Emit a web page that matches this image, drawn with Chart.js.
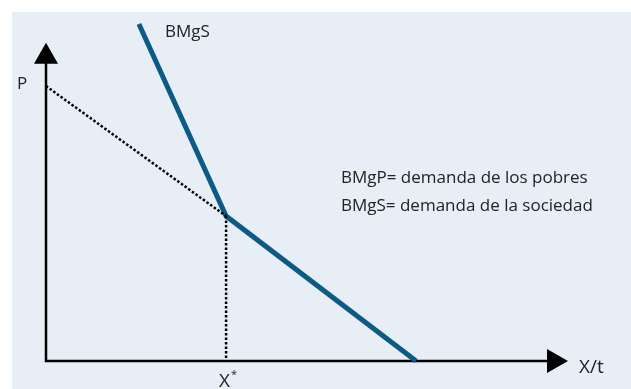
<!DOCTYPE html>
<html lang="es">
<head>
  <meta charset="UTF-8">
  <title>BMgP y BMgS</title>
  <script src="https://cdn.jsdelivr.net/npm/chart.js"></script>
  <style>
    html, body { margin: 0; padding: 0; background: #ffffff; }
    #wrap { width: 631px; height: 389px; }
  </style>
</head>
<body>
  <div id="wrap"><canvas id="chart-1" width="631" height="389"></canvas></div>

  <script>
    // datos en unidades del gráfico (x: 0-100, y: 0-100)
    const bmgsX = [17.8, 34.5, 70.9];
    const bmgsY = [100, 43.0, 0];
    const bmgpX = [0, 34.5];
    const bmgpY = [81.6, 43.0];
    const xStarX = [34.5, 34.5];
    const xStarY = [43.0, 0];

    const axisTipY = 94.4;   // punta de la flecha del eje P
    const axisTipX = 100;    // punta de la flecha del eje X/t

    const legendLines = ['BMgP= demanda de los pobres', 'BMgS= demanda de la sociedad'];

    const toPoints = (xs, ys) => xs.map((x, i) => ({ x: x, y: ys[i] }));

    const FONT = '"Open Sans", sans-serif';
    const BLUE = '#0d5a86';

    const decor = {
      id: 'decor',
      beforeDraw(chart) {
        const c = chart.ctx;
        c.save();
        c.fillStyle = '#e7eef5';
        c.fillRect(12, 12, chart.width - 12, chart.height - 12);
        c.restore();
      },
      beforeDatasetsDraw(chart) {
        const c = chart.ctx;
        const xs = chart.scales.x, ys = chart.scales.y;
        const x0 = xs.getPixelForValue(0), y0 = ys.getPixelForValue(0);
        const yTip = ys.getPixelForValue(axisTipY);
        const xTip = xs.getPixelForValue(axisTipX);
        c.save();
        c.strokeStyle = '#000';
        c.lineWidth = 2.5;
        c.beginPath();
        c.moveTo(x0, yTip + 10);
        c.lineTo(x0, y0);
        c.lineTo(xTip - 10, y0);
        c.stroke();
        c.fillStyle = '#000';
        // flecha vertical
        c.beginPath();
        c.moveTo(x0, yTip);
        c.lineTo(x0 - 12, yTip + 21);
        c.lineTo(x0 + 12, yTip + 21);
        c.closePath();
        c.fill();
        // flecha horizontal
        c.beginPath();
        c.moveTo(xTip, y0);
        c.lineTo(xTip - 21, y0 - 12);
        c.lineTo(xTip - 21, y0 + 12);
        c.closePath();
        c.fill();
        c.restore();
      },
      afterDatasetsDraw(chart) {
        const c = chart.ctx;
        const xs = chart.scales.x;
        const xStarPx = xs.getPixelForValue(xStarX[0]);
        c.save();
        c.fillStyle = '#222';
        c.textBaseline = 'alphabetic';
        c.textAlign = 'left';
        c.font = '17px ' + FONT;
        c.fillText('BMgS', 165, 37);
        c.fillText(legendLines[0], 341, 183);
        c.fillText(legendLines[1], 341, 211);
        c.fillText('P', 17, 89);
        c.font = '19px ' + FONT;
        c.fillText('X', xStarPx - 7, 387);
        c.fillText('X/t', 579, 373);
        c.font = '11px ' + FONT;
        c.fillText('*', xStarPx + 5, 378);
        c.restore();
      }
    };

    const ctx = document.getElementById('chart-1');
    const chart = new Chart(ctx, {
      type: 'scatter',
      data: {
        datasets: [
          {
            label: 'BMgP',
            data: toPoints(bmgpX, bmgpY),
            showLine: true,
            borderColor: '#000',
            borderWidth: 2.5,
            borderDash: [2.5, 2],
            pointRadius: 0,
            clip: false
          },
          {
            label: 'X*',
            data: toPoints(xStarX, xStarY),
            showLine: true,
            borderColor: '#000',
            borderWidth: 2.5,
            borderDash: [2.5, 2],
            pointRadius: 0,
            clip: false
          },
          {
            label: 'BMgS',
            data: toPoints(bmgsX, bmgsY),
            showLine: true,
            borderColor: BLUE,
            borderWidth: 5,
            borderJoinStyle: 'miter',
            pointRadius: 0,
            clip: false
          }
        ]
      },
      options: {
        responsive: false,
        animation: false,
        layout: { padding: { left: 46, right: 63, top: 24, bottom: 28 } },
        plugins: {
          legend: { display: false },
          tooltip: { enabled: false }
        },
        scales: {
          x: { type: 'linear', min: 0, max: 100, display: false },
          y: { type: 'linear', min: 0, max: 100, display: false }
        }
      },
      plugins: [decor]
    });
  </script>
</body>
</html>
